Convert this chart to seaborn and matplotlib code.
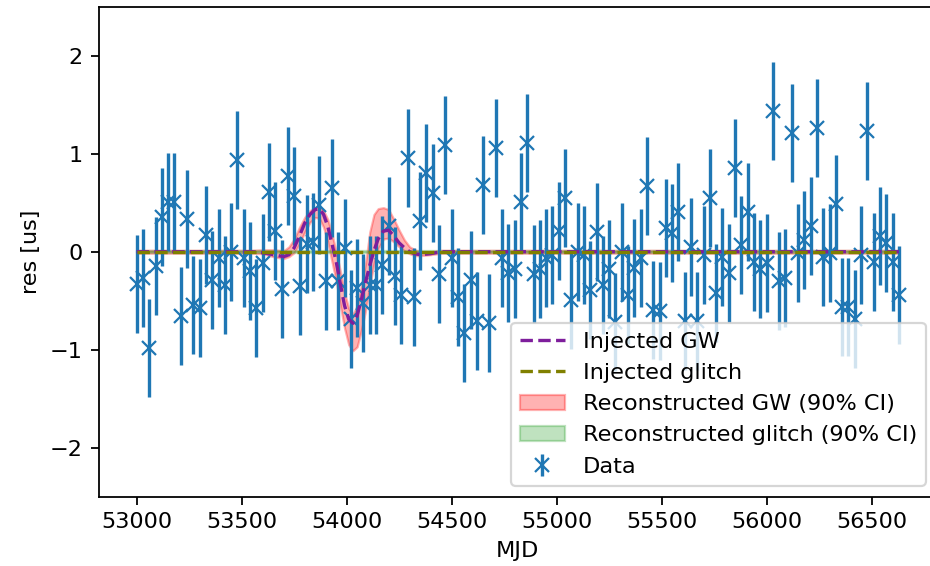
import numpy as np
import matplotlib
matplotlib.use('Agg')
import matplotlib.pyplot as plt
import seaborn as sns

mjd = np.arange(53000, 56631, 30)
res = [-0.33, -0.27, -0.98, -0.15, 0.35, 0.51, 0.51, -0.66, 0.33, -0.54,
       -0.57, 0.17, -0.29, -0.06, -0.34, 0.0, 0.94, -0.06, -0.2, -0.57,
       -0.12, 0.61, 0.21, -0.38, 0.77, 0.57, -0.35, 0.08, 0.10, 0.48,
       -0.30, 0.65, -0.30, 0.04, -0.69, -0.37, -0.52, -0.34, -0.34, -0.14,
       0.26, -0.25, -0.44, 0.96, -0.46, 0.31, 0.80, 0.60, -0.23, 1.09,
       -0.06, -0.46, -0.83, -0.29, -0.71, 0.68, -0.73, 1.06, -0.06, -0.22,
       -0.18, 0.51, 1.11, -0.23, -0.18, -0.06, -0.03, 0.21, 0.55, -0.49,
       0.0, -0.03, -0.39, 0.20, -0.34, -0.18, -0.72, 0.0, -0.44, -0.17,
       -0.06, 0.67, -0.59, -0.60, 0.24, 0.19, 0.41, -0.71, 0.05, -0.71,
       -0.03, 0.55, -0.42, -0.05, -0.22, 0.85, 0.07, 0.41, -0.10, -0.18,
       -0.11, 1.44, -0.30, -0.27, 1.21, -0.01, 0.12, 0.26, 1.26, -0.05,
       -0.01, 0.49, -0.56, -0.56, -0.69, -0.03, 1.23, -0.10, 0.16, 0.09,
       -0.10, -0.44]
err = 0.5

# injected GW signal and its reconstruction band
gw_mjd = [53000, 53550, 53600, 53650, 53700, 53725, 53750, 53775, 53800, 53825,
          53850, 53870, 53890, 53910, 53930, 53950, 53970, 53990, 54010, 54030,
          54050, 54070, 54090, 54110, 54130, 54150, 54175, 54200, 54225, 54250,
          54275, 54300, 54325, 54350, 54400, 54450, 56630]
gw_res = [0.0, 0.0, -0.01, -0.03, -0.05, -0.03, 0.04, 0.16, 0.29, 0.38,
          0.43, 0.44, 0.38, 0.26, 0.08, -0.10, -0.33, -0.55, -0.69, -0.73,
          -0.65, -0.49, -0.31, -0.14, 0.01, 0.13, 0.21, 0.22, 0.16, 0.09,
          0.04, 0.0, -0.02, -0.03, -0.02, 0.0, 0.0]
gw_lo = [-0.015, -0.015, -0.02, -0.05, -0.07, -0.05, -0.01, 0.08, 0.20, 0.30,
         0.35, 0.34, 0.25, 0.10, -0.10, -0.30, -0.55, -0.78, -0.95, -1.01,
         -0.97, -0.80, -0.60, -0.35, -0.12, 0.03, 0.13, 0.14, 0.10, 0.05,
         0.01, -0.02, -0.04, -0.04, -0.03, -0.015, -0.015]
gw_hi = [0.015, 0.015, 0.02, 0.02, 0.01, 0.05, 0.13, 0.25, 0.35, 0.42,
         0.45, 0.45, 0.42, 0.33, 0.18, 0.0, -0.20, -0.42, -0.58, -0.64,
         -0.55, -0.35, -0.12, 0.20, 0.38, 0.44, 0.45, 0.43, 0.33, 0.22,
         0.12, 0.05, 0.02, 0.0, 0.0, 0.015, 0.015]

# injected glitch (none) and its reconstruction band
gl_mjd = [53000, 56630]
gl_res = [0.0, 0.0]
gl_lo = [-0.01, -0.01]
gl_hi = [0.01, 0.01]

DPI = 161
fig = plt.figure(figsize=(930 / DPI, 566 / DPI), dpi=DPI)
ax = fig.add_axes([0.106, 0.1224, 0.9015, 0.8657])

# lines first so they come first in the legend, zorder keeps them on top
sns.lineplot(x=gw_mjd, y=gw_res, ax=ax, color='#7e1e9c', linestyle='--',
             label='Injected GW', zorder=3)
sns.lineplot(x=gl_mjd, y=gl_res, ax=ax, color='olive', linestyle='--',
             label='Injected glitch', zorder=3)
ax.fill_between(gw_mjd, gw_lo, gw_hi, color='red', alpha=0.3,
                label='Reconstructed GW (90% CI)', zorder=1)
ax.fill_between(gl_mjd, gl_lo, gl_hi, color='C2', alpha=0.3,
                label='Reconstructed glitch (90% CI)', zorder=1)
ax.errorbar(mjd, res, yerr=err, fmt='x', color='C0', label='Data', zorder=2)

ax.set_ylim(-2.5, 2.5)
ax.set_xlabel('MJD')
ax.set_ylabel('res [us]')
ax.legend(loc='lower right')

fig.savefig('out.png', dpi=DPI)
